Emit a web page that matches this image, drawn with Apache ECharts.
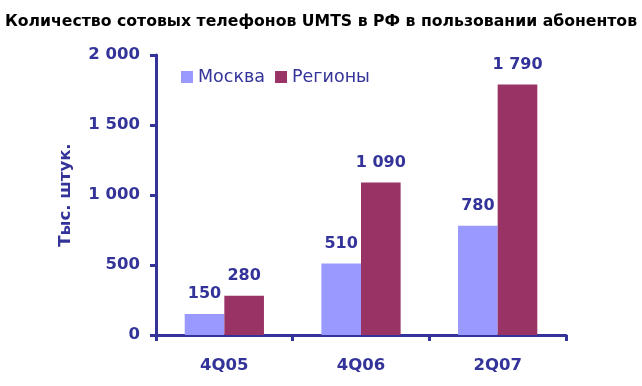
<!DOCTYPE html>
<html><head><meta charset="utf-8">
<script src="https://cdn.jsdelivr.net/npm/echarts@6/dist/echarts.min.js"></script>
<style>html,body{margin:0;padding:0;background:#fff}#c{width:642px;height:386px}</style>
</head><body><div id="c"></div>
<script>
const categories = ['4Q05', '4Q06', '2Q07'];
const moscow = [150, 510, 780];
const regions = [280, 1090, 1790];
const seriesNames = ['Москва', 'Регионы'];
const yTicks = [0, 500, 1000, 1500, 2000];

const navy = '#333399';
const font = 'DejaVu Sans';
function fmt(v){ return String(v).replace(/\B(?=(\d{3})+(?!\d))/g, ' '); }

const chart = echarts.init(document.getElementById('c'));
chart.setOption({
  animation: false,
  title: {
    text: 'Количество сотовых телефонов UMTS в РФ в пользовании абонентов',
    left: 'center', top: 9,
    textStyle: { fontFamily: font, fontWeight: 'bold', fontSize: 15.7, color: '#000' }
  },
  legend: {
    data: seriesNames, left: 176, top: 63, itemWidth: 12, itemHeight: 12, itemGap: 10,
    icon: 'rect',
    textStyle: { fontFamily: font, fontSize: 17.5, color: navy, fontWeight: 'normal' }
  },
  grid: { left: 156, right: 76, top: 55, bottom: 51, containLabel: false },
  xAxis: {
    type: 'category', data: categories,
    axisLine: { lineStyle: { color: navy, width: 3 } },
    axisTick: { show: true, length: 6, lineStyle: { color: navy, width: 3 } },
    axisLabel: { fontFamily: font, fontWeight: 'bold', fontSize: 16.5, color: navy, margin: 22 }
  },
  yAxis: {
    type: 'value', min: 0, max: 2000, interval: 500,
    name: 'Тыс. штук.', nameLocation: 'middle', nameGap: 82, nameRotate: 90,
    nameTextStyle: { fontFamily: font, fontWeight: 'bold', fontSize: 16.5, color: navy },
    axisLine: { show: true, lineStyle: { color: navy, width: 3 } },
    axisTick: { show: true, length: 6, lineStyle: { color: navy, width: 3 } },
    splitLine: { show: false },
    axisLabel: { fontFamily: font, fontWeight: 'bold', fontSize: 16.5, color: navy, margin: 16,
      formatter: v => yTicks.includes(v) ? fmt(v) : '' }
  },
  series: [
    { name: seriesNames[0], type: 'bar', data: moscow, barGap: '0%', barCategoryGap: '42%',
      itemStyle: { color: '#9999FF' },
      label: { show: true, position: 'top', distance: 12, formatter: p => fmt(p.value),
        fontFamily: font, fontWeight: 'bold', fontSize: 16, color: navy } },
    { name: seriesNames[1], type: 'bar', data: regions,
      itemStyle: { color: '#993366' },
      label: { show: true, position: 'top', distance: 12, formatter: p => fmt(p.value),
        fontFamily: font, fontWeight: 'bold', fontSize: 16, color: navy } }
  ]
});
</script></body></html>
